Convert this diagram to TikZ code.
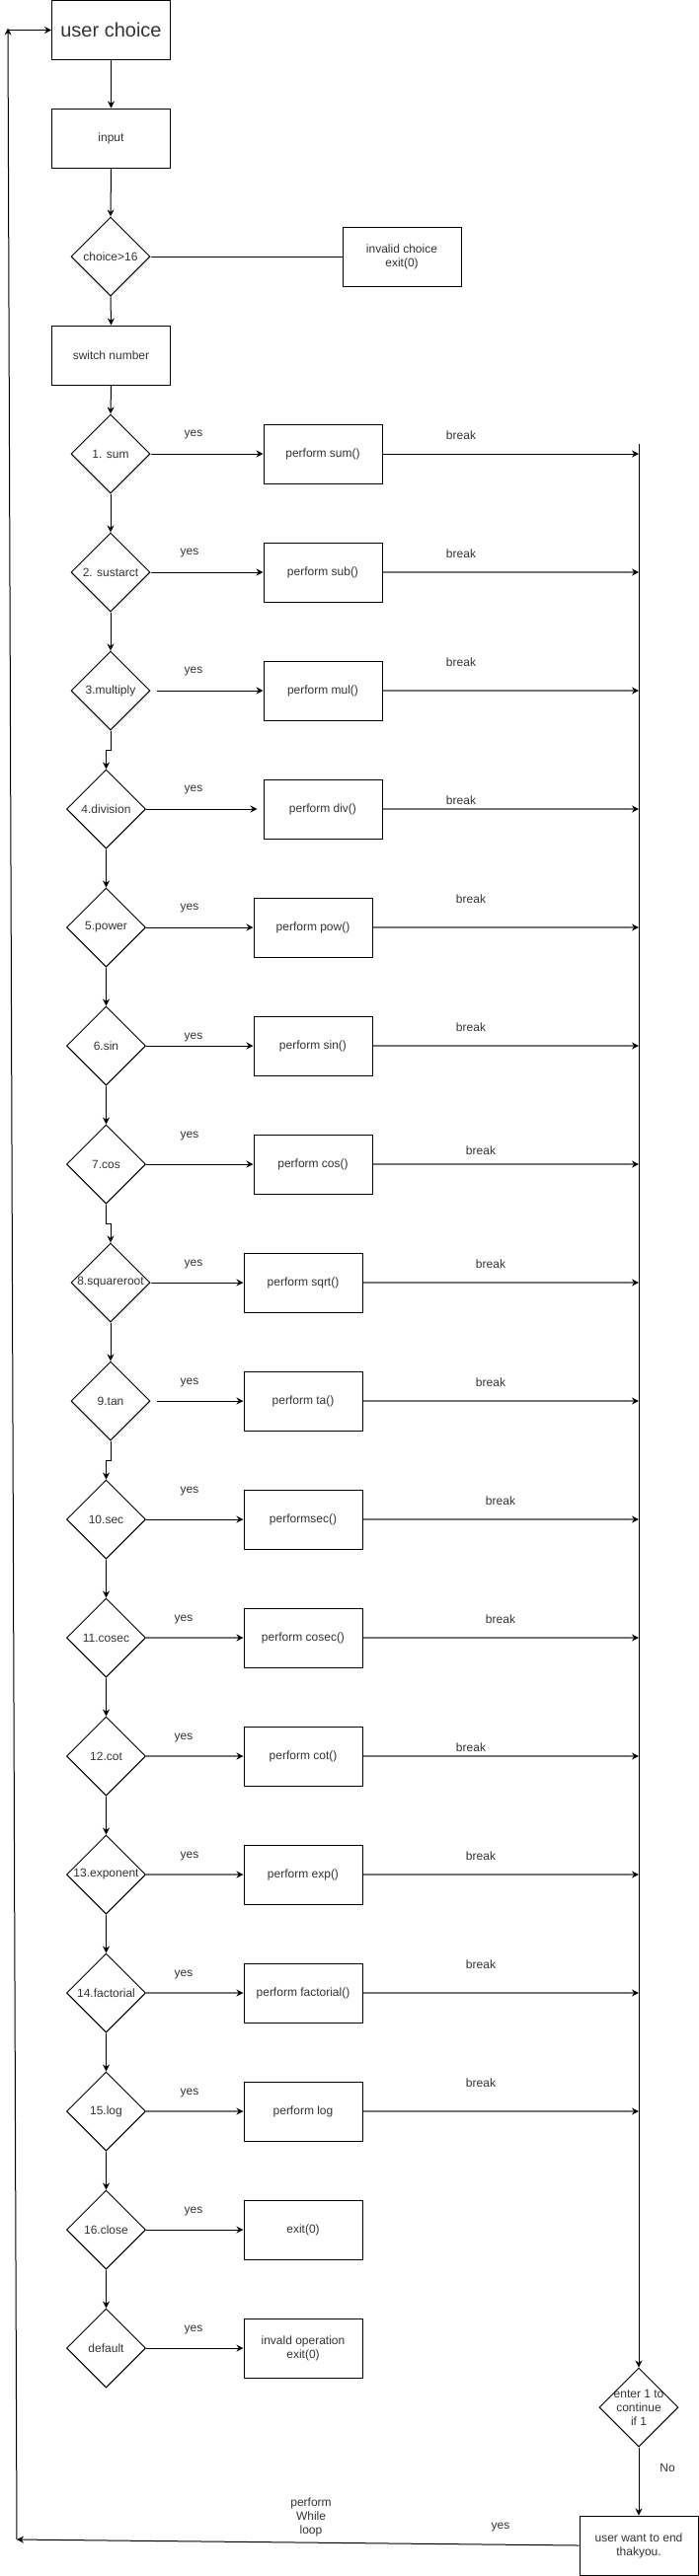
\documentclass[tikz,border=0pt]{standalone}
\usepackage{fontspec}
\setmainfont{Liberation Sans}
\usetikzlibrary{shapes.geometric,arrows.meta}
\begin{document}
\begin{tikzpicture}[x=1pt,y=-1pt,
  font=\fontsize{12}{14}\selectfont, text=black!80,
  box/.style={draw=black, line width=1pt, minimum width=120pt, minimum height=60pt, inner sep=0pt, align=center},
  dia/.style={draw=black, diamond, line width=1pt, minimum width=80pt, minimum height=80pt, inner sep=0pt,
              label={[align=center, text=black!80]center:{#1}}},
  arr/.style={draw=black, line width=1pt, -{Stealth[length=7pt,width=7pt,color=black]}},
  garr/.style={draw=black!55, line width=1.6pt, -{Stealth[length=7pt,width=7pt,color=black]}},
  plain/.style={draw=black, line width=1pt},
  lbl/.style={inner sep=0pt, align=center}]
\useasboundingbox (0,0) rectangle (708,2611);

% top part
\node[box] (uc) at (112.5,30.5) {\fontsize{20}{24}\selectfont user choice};
\node[box] (inp) at (112.5,140) {input};
\node[dia={choice>16}] (chk) at (112,260) {};
\node[box] (inv) at (407,260) {invalid choice\\exit(0)};
\node[box] (sw) at (112.5,360) {switch number};

% case diamonds
\node[dia={1. sum}] (d1) at (112,460) {};
\node[dia={2. sustarct}] (d2) at (112,580) {};
\node[dia={3.multiply}] (d3) at (112,700) {};
\node[dia={4.division}] (d4) at (107.5,820) {};
\node[dia={5.power}] (d5) at (107.5,940) {};
\node[dia={6.sin}] (d6) at (107.5,1060) {};
\node[dia={7.cos}] (d7) at (107.5,1180) {};
\node[dia={8.squareroot}] (d8) at (112,1300) {};
\node[dia={9.tan}] (d9) at (112,1420) {};
\node[dia={10.sec}] (d10) at (107.5,1540) {};
\node[dia={11.cosec}] (d11) at (107.5,1660) {};
\node[dia={12.cot}] (d12) at (107.5,1780) {};
\node[dia={13.exponent}] (d13) at (107.5,1900) {};
\node[dia={14.factorial}] (d14) at (107.5,2020) {};
\node[dia={15.log}] (d15) at (107.5,2140) {};
\node[dia={16.close}] (d16) at (107.5,2260) {};
\node[dia={default}] (d17) at (107.5,2380) {};

% action boxes
\node[box] (b1) at (327,460) {perform sum()};
\node[box] (b2) at (327,580) {perform sub()};
\node[box] (b3) at (327,700) {perform mul()};
\node[box] (b4) at (327,820) {perform div()};
\node[box] (b5) at (317,940) {perform pow()};
\node[box] (b6) at (317,1060) {perform sin()};
\node[box] (b7) at (317,1180) {perform cos()};
\node[box] (b8) at (307,1300) {perform sqrt()};
\node[box] (b9) at (307,1420) {perform ta()};
\node[box] (b10) at (307,1540) {performsec()};
\node[box] (b11) at (307,1660) {perform cosec()};
\node[box] (b12) at (307,1780) {perform cot()};
\node[box] (b13) at (307,1900) {perform exp()};
\node[box] (b14) at (307,2020) {perform factorial()};
\node[box] (b15) at (307,2140) {perform log};
\node[box] (b16) at (307,2260) {exit(0)};
\node[box] (b17) at (307,2380) {invald operation\\exit(0)};

% right side
\node[dia={enter 1 to\\continue\\if 1}] (ent) at (647,2440) {};
\node[box] (end) at (647,2580) {user want to end\\thakyou.};

% coordinates on the right collector line
\coordinate (ktop) at (647,450);
\coordinate (k1) at (647,460);
\coordinate (k2) at (647,580);
\coordinate (k3) at (647,700);
\coordinate (k4) at (647,820);
\coordinate (k5) at (647,940);
\coordinate (k6) at (647,1060);
\coordinate (k7) at (647,1180);
\coordinate (k8) at (647,1300);
\coordinate (k9) at (647,1420);
\coordinate (k10) at (647,1540);
\coordinate (k11) at (647,1660);
\coordinate (k12) at (647,1780);
\coordinate (k13) at (647,1900);
\coordinate (k14) at (647,2020);
\coordinate (k15) at (647,2140);
\coordinate (lb) at (17,2574);
\coordinate (lt) at (8,30.5);

% vertical flow
\draw[arr] (uc.south) -- (inp.north);
\draw[arr] (inp.south) -- (chk.north);
\draw[arr] (chk.south) -- (sw.north);
\draw[plain] (chk.east) -- (inv.west);
\draw[arr] (sw.south) -- (d1.north);
\draw[arr] (d1.south) -- (d2.north);
\draw[arr] (d2.south) -- (d3.north);
\draw[arr] (d3.south) -- ++(0,20) -| (d4.north);
\draw[arr] (d4.south) -- (d5.north);
\draw[arr] (d5.south) -- (d6.north);
\draw[arr] (d6.south) -- (d7.north);
\draw[arr] (d7.south) -- ++(0,20) -| (d8.north);
\draw[arr] (d8.south) -- (d9.north);
\draw[arr] (d9.south) -- ++(0,20) -| (d10.north);
\draw[arr] (d10.south) -- (d11.north);
\draw[arr] (d11.south) -- (d12.north);
\draw[arr] (d12.south) -- (d13.north);
\draw[arr] (d13.south) -- (d14.north);
\draw[arr] (d14.south) -- (d15.north);
\draw[arr] (d15.south) -- (d16.north);
\draw[arr] (d16.south) -- (d17.north);

% yes arrows
\draw[arr] (d1.east) -- (b1.west);
\draw[arr] (d2.east) -- (b2.west);
\draw[arr] ([xshift=6pt]d3.east) -- (b3.west);
\draw[arr] (d4.east) -- ([xshift=-6pt]b4.west);
\draw[arr] (d5.east) -- (b5.west);
\draw[arr] (d6.east) -- (b6.west);
\draw[arr] (d7.east) -- (b7.west);
\draw[arr] (d8.east) -- (b8.west);
\draw[arr] ([xshift=6pt]d9.east) -- (b9.west);
\draw[arr] (d10.east) -- (b10.west);
\draw[garr] (d11.east) -- (b11.west);
\draw[garr] (d12.east) -- (b12.west);
\draw[garr] (d13.east) -- (b13.west);
\draw[garr] (d14.east) -- (b14.west);
\draw[garr] (d15.east) -- (b15.west);
\draw[arr] (d16.east) -- (b16.west);
\draw[arr] (d17.east) -- (b17.west);

% break arrows
\draw[arr] (b1.east) -- (k1);
\draw[garr] (b2.east) -- (k2);
\draw[garr] (b3.east) -- (k3);
\draw[garr] (b4.east) -- (k4);
\draw[garr] (b5.east) -- (k5);
\draw[garr] (b6.east) -- (k6);
\draw[garr] (b7.east) -- (k7);
\draw[garr] (b8.east) -- (k8);
\draw[garr] (b9.east) -- (k9);
\draw[garr] (b10.east) -- (k10);
\draw[garr] (b11.east) -- (k11);
\draw[garr] (b12.east) -- (k12);
\draw[garr] (b13.east) -- (k13);
\draw[garr] (b14.east) -- (k14);
\draw[garr] (b15.east) -- (k15);

% collector and end
\draw[arr] (ktop) -- (ent.north);
\draw[arr] (ent.south) -- (end.north);
\draw[arr] (end.west) -- (lb);
\draw[arr] (lb) -- ([yshift=2pt]lt);
\draw[arr] (lt) -- (uc.west);

% labels
\node[lbl] (y1) at (196,441) {yes};
\node[lbl] (y2) at (192,561) {yes};
\node[lbl] (y3) at (196,681) {yes};
\node[lbl] (y4) at (196,801) {yes};
\node[lbl] (y5) at (192,921) {yes};
\node[lbl] (y6) at (196,1051) {yes};
\node[lbl] (y7) at (192,1151) {yes};
\node[lbl] (y8) at (196,1281) {yes};
\node[lbl] (y9) at (192,1401) {yes};
\node[lbl] (y10) at (192,1511) {yes};
\node[lbl] (y11) at (186,1641) {yes};
\node[lbl] (y12) at (186,1761) {yes};
\node[lbl] (y13) at (192,1881) {yes};
\node[lbl] (y14) at (186,2001) {yes};
\node[lbl] (y15) at (192,2121) {yes};
\node[lbl] (y16) at (196,2241) {yes};
\node[lbl] (y17) at (196,2361) {yes};

\node[lbl] (r1) at (467,441) {break};
\node[lbl] (r2) at (467,561) {break};
\node[lbl] (r3) at (467,671) {break};
\node[lbl] (r4) at (467,811) {break};
\node[lbl] (r5) at (477,911) {break};
\node[lbl] (r6) at (477,1041) {break};
\node[lbl] (r7) at (487,1166) {break};
\node[lbl] (r8) at (497,1281) {break};
\node[lbl] (r9) at (497,1401) {break};
\node[lbl] (r10) at (507,1521) {break};
\node[lbl] (r11) at (507,1641) {break};
\node[lbl] (r12) at (477,1771) {break};
\node[lbl] (r13) at (487,1881) {break};
\node[lbl] (r14) at (487,1991) {break};
\node[lbl] (r15) at (487,2111) {break};

\node[lbl] (no) at (676,2501) {No};
\node[lbl] (yend) at (507,2561) {yes};
\node[lbl] (wl) at (315,2551) {perform\\While\\loop};
\end{tikzpicture}
\end{document}
